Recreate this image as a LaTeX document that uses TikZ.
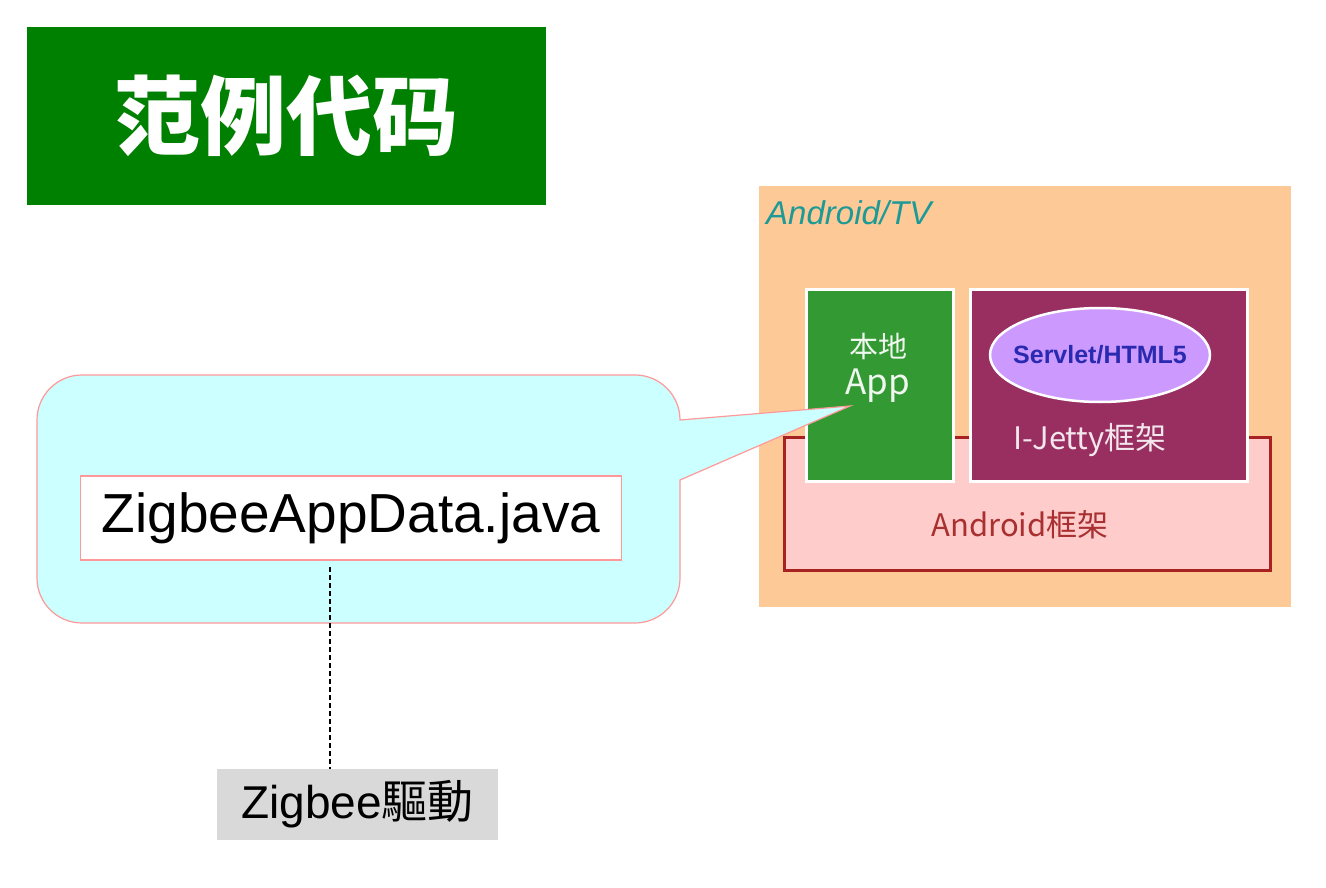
\documentclass[tikz,border=0pt]{standalone}
\usepackage{fontspec}
\setmainfont{Liberation Sans}
\newfontfamily\cjk{Noto Sans CJK SC}
\newfontfamily\cjktc{Noto Sans CJK TC}
\usetikzlibrary{shapes.geometric}
\definecolor{titlegreen}{HTML}{008000}
\definecolor{callfill}{HTML}{CCFFFF}
\definecolor{callline}{HTML}{FF9999}
\definecolor{grayfill}{HTML}{D9D9D9}
\definecolor{panelorange}{HTML}{FDC997}
\definecolor{fwfill}{HTML}{FFCCCC}
\definecolor{fwline}{HTML}{A82222}
\definecolor{appgreen}{HTML}{339933}
\definecolor{jettypurple}{HTML}{982F60}
\definecolor{ellfill}{HTML}{CC99FF}
\definecolor{servblue}{HTML}{2A2AB0}
\definecolor{teal}{HTML}{1E9A96}
\definecolor{fwtext}{HTML}{A83030}
\tikzset{
  fs/.style={font=\fontsize{#1}{#1}\selectfont},
  whitebox/.style={draw=white, line width=3pt, inner sep=0pt},
}
\begin{document}
\begin{tikzpicture}[x=1pt,y=-1pt]
\useasboundingbox[fill=white] (0,0) rectangle (1326,888);
% title
\node[fill=titlegreen, minimum width=519pt, minimum height=178pt, inner sep=0pt,
      text=white, font=\cjk\bfseries\fontsize{86}{86}\selectfont] (title) at (286.5,116) {范例代码};
% right panel
\node[fill=panelorange, minimum width=532pt, minimum height=421pt, inner sep=0pt] (panel) at (1025,396.5) {};
\node[anchor=base west, text=teal, font=\itshape\fontsize{33}{33}\selectfont, inner sep=0pt] (tv) at (766,225) {Android/TV};
\node[draw=fwline, fill=fwfill, line width=3pt, minimum width=486pt, minimum height=133pt, inner sep=0pt] (fw) at (1027,503.5) {};
\node[text=fwtext, font=\cjk\fontsize{31}{31}\selectfont, inner sep=0pt] (fwlabel) at (1020,525) {Android框架};
\node[whitebox, fill=appgreen, minimum width=147pt, minimum height=192pt] (app) at (879.5,385) {};
\node[text=white!92!appgreen, font=\cjk\fontsize{29}{29}\selectfont, inner sep=0pt] (local) at (878,346) {本地};
\node[text=white!92!appgreen, font=\cjk\fontsize{35}{35}\selectfont, inner sep=0pt] (applabel) at (878,386) {App};
\node[whitebox, fill=jettypurple, minimum width=277pt, minimum height=192pt] (jetty) at (1108.5,385) {};
\node[ellipse, draw=white, line width=2.5pt, fill=ellfill, minimum width=220pt, minimum height=94pt, inner sep=0pt] (servlet) at (1100,355) {};
\node[text=servblue, font=\bfseries\fontsize{25}{25}\selectfont, inner sep=0pt] (servlabel) at (servlet.center) {Servlet/HTML5};
\node[text=white!88!jettypurple, font=\cjk\fontsize{31}{31}\selectfont, inner sep=0pt] (jlabel) at (1090,440) {I-Jetty框架};
% callout
\coordinate (tip) at (850,406);
\draw[fill=callfill, draw=callline, line width=1.2pt]
  (82,375) -- (635,375) arc[start angle=90, end angle=0, radius=45pt]
  -- (tip) -- (680,480) -- (680,578) arc[start angle=0, end angle=-90, radius=45pt]
  -- (82,623) arc[start angle=-90, end angle=-180, radius=45pt]
  -- (37,420) arc[start angle=180, end angle=90, radius=45pt] -- cycle;
\node[draw=callline, fill=white, line width=1.2pt, minimum width=541pt, minimum height=84pt, inner sep=0pt,
      fs=55] (java) at (351,518) {ZigbeeAppData.java};
% driver
\node[fill=grayfill, minimum width=281pt, minimum height=71pt, inner sep=0pt,
      font=\fontsize{46}{46}\selectfont] (drv) at (357.5,804.5) {Zigbee{\cjktc 驅動}};
\coordinate (d1) at (330,567);
\draw[dash pattern=on 5pt off 3pt, line width=1.2pt] (d1) -- (drv.north -| d1);
\end{tikzpicture}
\end{document}
